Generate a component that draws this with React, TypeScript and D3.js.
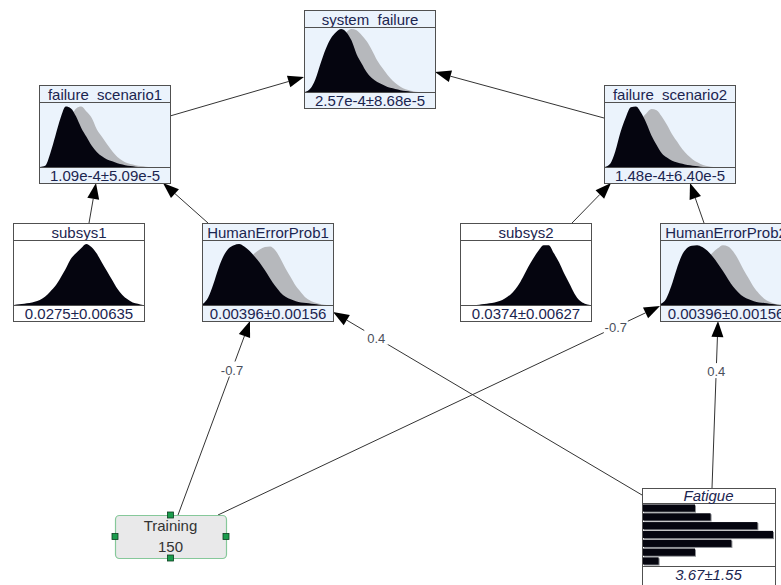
import React from 'react';
import * as d3 from 'd3';

// histogram heights (relative), sampled evenly across each node's plot area
const sfPost = [0, 0.05, 0.2, 0.45, 0.68, 0.85, 0.95, 1.0, 0.95, 0.82, 0.6, 0.45, 0.31, 0.22, 0.16, 0.12, 0.08, 0.06, 0.04, 0.02, 0.01, 0, 0, 0, 0, 0];
const sfPrior = [0, 0.02, 0.06, 0.12, 0.25, 0.45, 0.66, 0.84, 0.95, 1.0, 0.98, 0.9, 0.8, 0.66, 0.5, 0.38, 0.27, 0.18, 0.11, 0.06, 0.03, 0.01, 0, 0, 0, 0];
const fs1Post = [0, 0.02, 0.22, 0.5, 0.78, 0.96, 0.93, 0.8, 0.62, 0.48, 0.34, 0.24, 0.17, 0.12, 0.09, 0.06, 0.04, 0.02, 0.01, 0, 0, 0, 0, 0, 0, 0];
const fs1Prior = [0, 0, 0.05, 0.15, 0.3, 0.55, 0.78, 0.93, 0.96, 0.88, 0.78, 0.6, 0.48, 0.36, 0.25, 0.16, 0.1, 0.06, 0.04, 0.02, 0.01, 0, 0, 0, 0, 0];
const fs2Post = [0, 0.05, 0.25, 0.55, 0.78, 0.95, 0.96, 0.86, 0.7, 0.5, 0.35, 0.22, 0.15, 0.1, 0.07, 0.05, 0.03, 0.02, 0.01, 0, 0, 0, 0, 0, 0, 0];
const fs2Prior = [0, 0, 0.05, 0.12, 0.25, 0.42, 0.6, 0.75, 0.85, 0.92, 0.9, 0.8, 0.67, 0.52, 0.4, 0.28, 0.19, 0.12, 0.07, 0.03, 0.01, 0, 0, 0, 0, 0];
const hep1Post = [0.02, 0.12, 0.33, 0.58, 0.78, 0.9, 0.95, 0.97, 0.93, 0.86, 0.77, 0.67, 0.55, 0.42, 0.3, 0.2, 0.13, 0.09, 0.06, 0.04, 0.03, 0.02, 0.01, 0, 0, 0];
const hep1Prior = [0, 0, 0.03, 0.08, 0.15, 0.25, 0.37, 0.5, 0.62, 0.73, 0.82, 0.88, 0.92, 0.93, 0.87, 0.74, 0.58, 0.44, 0.3, 0.2, 0.11, 0.06, 0.03, 0.01, 0, 0];
const hep2Post = [0.02, 0.1, 0.3, 0.56, 0.78, 0.9, 0.94, 0.95, 0.92, 0.86, 0.77, 0.66, 0.54, 0.41, 0.29, 0.2, 0.13, 0.09, 0.06, 0.04, 0.03, 0.02, 0.01, 0, 0, 0];
const hep2Prior = [0, 0, 0.03, 0.08, 0.15, 0.25, 0.38, 0.5, 0.63, 0.74, 0.83, 0.9, 0.95, 0.93, 0.85, 0.72, 0.56, 0.42, 0.28, 0.18, 0.1, 0.05, 0.02, 0.01, 0, 0];
const subsys1Post = [0, 0.01, 0.02, 0.03, 0.05, 0.08, 0.13, 0.21, 0.3, 0.43, 0.57, 0.73, 0.82, 0.9, 0.97, 0.92, 0.82, 0.68, 0.54, 0.4, 0.26, 0.16, 0.09, 0.04, 0.02, 0];
const subsys2Post = [0, 0, 0, 0, 0.01, 0.02, 0.03, 0.05, 0.08, 0.13, 0.2, 0.3, 0.44, 0.6, 0.74, 0.86, 0.95, 0.95, 0.82, 0.68, 0.5, 0.34, 0.18, 0.07, 0.02, 0];

const fatigueStates = ['s1', 's2', 's3', 's4', 's5', 's6', 's7'];
const fatigueProbs = [0.1, 0.13, 0.22, 0.25, 0.17, 0.1, 0.03];

const NW = 131;
const NH = 98;

type NodeDef = { id: string; x: number; y: number; value: string; post: number[]; prior?: number[] };

const nodes: NodeDef[] = [
  { id: 'system_failure', x: 304, y: 10, value: '2.57e-4±8.68e-5', post: sfPost, prior: sfPrior },
  { id: 'failure_scenario1', x: 39, y: 85, value: '1.09e-4±5.09e-5', post: fs1Post, prior: fs1Prior },
  { id: 'failure_scenario2', x: 604, y: 85, value: '1.48e-4±6.40e-5', post: fs2Post, prior: fs2Prior },
  { id: 'subsys1', x: 13, y: 223, value: '0.0275±0.00635', post: subsys1Post },
  { id: 'HumanErrorProb1', x: 202, y: 223, value: '0.00396±0.00156', post: hep1Post, prior: hep1Prior },
  { id: 'subsys2', x: 460, y: 223, value: '0.0374±0.00627', post: subsys2Post },
  { id: 'HumanErrorProb2', x: 660, y: 223, value: '0.00396±0.00156', post: hep2Post, prior: hep2Prior },
];

const training = { id: 'Training', x: 115, y: 515, w: 111, h: 43, value: '150' };
const fatigue = { id: 'Fatigue', x: 642, y: 488, w: 133, h: 110, value: '3.67±1.55' };

const pos: Record<string, { x: number; y: number }> = {};
nodes.forEach(n => (pos[n.id] = { x: n.x, y: n.y }));
pos[training.id] = { x: training.x, y: training.y };
pos[fatigue.id] = { x: fatigue.x, y: fatigue.y };

// arcs: anchor offsets relative to each node's top-left corner
const edges = [
  { from: 'failure_scenario1', to: 'system_failure', sx: 131, sy: 31, tx: 0, ty: 67 },
  { from: 'failure_scenario2', to: 'system_failure', sx: 0, sy: 33, tx: 131, ty: 62 },
  { from: 'subsys1', to: 'failure_scenario1', sx: 76, sy: 0, tx: 57, ty: 98 },
  { from: 'HumanErrorProb1', to: 'failure_scenario1', sx: 6, sy: 0, tx: 124, ty: 98 },
  { from: 'subsys2', to: 'failure_scenario2', sx: 112, sy: 0, tx: 7, ty: 98 },
  { from: 'HumanErrorProb2', to: 'failure_scenario2', sx: 44, sy: 0, tx: 86, ty: 98 },
  { from: 'Training', to: 'HumanErrorProb1', sx: 63, sy: 0, tx: 48, ty: 98, label: '-0.7', t: 0.75 },
  { from: 'Fatigue', to: 'HumanErrorProb1', sx: 0, sy: 7, tx: 131, ty: 89, label: '0.4', t: 0.86 },
  { from: 'Training', to: 'HumanErrorProb2', sx: 103, sy: 0, tx: 0, ty: 83, label: '-0.7', t: 0.9 },
  { from: 'Fatigue', to: 'HumanErrorProb2', sx: 70, sy: 0, tx: 58, ty: 98, label: '0.4', t: 0.7 },
];

const TEXT = '#1b2550';
const BORDER = '#505050';
const DARK = '#05050f';
const GRAY = '#b6b8bc';
const LIGHT = '#ebf3fc';
const FONT = 'Arial, "Liberation Sans", sans-serif';

const Hist: React.FC<{ n: NodeDef }> = ({ n }) => {
  const x = d3.scaleLinear().domain([0, n.post.length - 1]).range([n.x + 1, n.x + NW - 1]);
  const y = d3.scaleLinear().domain([0, 1]).range([n.y + 82, n.y + 19]);
  const area = d3.area<number>()
    .x((_, i) => x(i))
    .y0(y(0))
    .y1(d => y(d))
    .curve(d3.curveMonotoneX);
  const compare = !!n.prior;
  const clipId = 'clip-' + n.id;
  return (
    <g>
      <clipPath id={clipId}>
        <rect x={n.x} y={n.y} width={NW} height={17} />
      </clipPath>
      <rect x={n.x + 0.5} y={n.y + 0.5} width={NW} height={NH} fill={compare ? LIGHT : '#fff'} stroke={BORDER} />
      {n.prior && <path d={area(n.prior) || ''} fill={GRAY} />}
      <path d={area(n.post) || ''} fill={DARK} />
      <text x={n.x + NW / 2 + 0.5} y={n.y + 15} textAnchor="middle" fontSize={15} fill={TEXT} fontFamily={FONT} clipPath={`url(#${clipId})`}>{n.id}</text>
      <line x1={n.x} x2={n.x + NW} y1={n.y + 17.5} y2={n.y + 17.5} stroke={BORDER} />
      <line x1={n.x} x2={n.x + NW} y1={n.y + 82.5} y2={n.y + 82.5} stroke={BORDER} />
      <text x={n.x + NW / 2 + 0.5} y={n.y + 96} textAnchor="middle" fontSize={15} fill={TEXT} fontFamily={FONT}>{n.value}</text>
    </g>
  );
};

const App: React.FC = () => {
  const fy = d3.scaleBand().domain(fatigueStates).range([fatigue.y + 16, fatigue.y + 77]).paddingInner(0.18).paddingOuter(0.05);
  const fx = d3.scaleLinear().domain([0, d3.max(fatigueProbs) || 1]).range([0, 130]);

  const arcs = edges.map(e => {
    const s = pos[e.from];
    const t = pos[e.to];
    const x1 = s.x + e.sx, y1 = s.y + e.sy, x2 = t.x + e.tx, y2 = t.y + e.ty;
    const ang = Math.atan2(y2 - y1, x2 - x1);
    const L = 16, Wd = 6;
    const bx = x2 - L * Math.cos(ang), by = y2 - L * Math.sin(ang);
    const head = [
      [x2, y2],
      [bx + Wd * Math.sin(ang), by - Wd * Math.cos(ang)],
      [bx - Wd * Math.sin(ang), by + Wd * Math.cos(ang)],
    ];
    return { ...e, x1, y1, bx, by, head };
  });

  return (
    <svg width={781} height={585} style={{ position: 'absolute', left: 0, top: 0, background: '#fff' }} fontFamily={FONT}>
      {arcs.map((a, i) => (
        <g key={i}>
          <line x1={a.x1} y1={a.y1} x2={a.bx} y2={a.by} stroke="#333" strokeWidth={1} />
          <polygon points={a.head.map(p => p.join(',')).join(' ')} fill="#000" />
        </g>
      ))}
      {arcs.filter(a => a.label).map((a, i) => {
        const lx = a.x1 + (a.head[0][0] - a.x1) * (a.t as number);
        const ly = a.y1 + (a.head[0][1] - a.y1) * (a.t as number);
        return (
          <g key={'l' + i}>
            <rect x={lx - 12} y={ly - 8} width={24} height={15} fill="#fff" />
            <text x={lx} y={ly + 5} textAnchor="middle" fontSize={13} fill="#4a4f5c">{a.label}</text>
          </g>
        );
      })}
      {nodes.map(n => <Hist key={n.id} n={n} />)}

      {/* Training (evidence node) */}
      <rect x={training.x + 0.5} y={training.y + 0.5} width={training.w} height={training.h} rx={4} fill="#e9e9ea" stroke="#86c89a" strokeWidth={1.2} />
      <text x={training.x + training.w / 2} y={training.y + 16} textAnchor="middle" fontSize={15} fill="#333">{training.id}</text>
      <text x={training.x + training.w / 2} y={training.y + 37} textAnchor="middle" fontSize={15} fill="#333">{training.value}</text>
      {[[training.w / 2, 0], [training.w / 2, training.h], [0, training.h / 2], [training.w, training.h / 2]].map(([dx, dy], i) => (
        <rect key={i} x={training.x + dx - 3} y={training.y + dy - 3} width={6} height={6} fill="#1a9c4c" stroke="#0b3d1e" strokeWidth={0.8} />
      ))}

      {/* Fatigue */}
      <rect x={fatigue.x + 0.5} y={fatigue.y + 0.5} width={fatigue.w} height={fatigue.h} fill="#fff" stroke={BORDER} />
      <line x1={fatigue.x} x2={fatigue.x + fatigue.w} y1={fatigue.y + 15.5} y2={fatigue.y + 15.5} stroke={BORDER} />
      <line x1={fatigue.x} x2={fatigue.x + fatigue.w} y1={fatigue.y + 78.5} y2={fatigue.y + 78.5} stroke={BORDER} />
      <text x={fatigue.x + fatigue.w / 2} y={fatigue.y + 13} textAnchor="middle" fontSize={15} fontStyle="italic" fill={TEXT}>{fatigue.id}</text>
      {fatigueStates.map((s, i) => (
        <g key={s}>
          <rect x={fatigue.x + 2} y={(fy(s) || 0) + 1} width={fx(fatigueProbs[i])} height={fy.bandwidth()} fill="#8a8c90" />
          <rect x={fatigue.x + 1} y={fy(s) || 0} width={fx(fatigueProbs[i])} height={fy.bandwidth()} fill={DARK} />
        </g>
      ))}
      <text x={fatigue.x + fatigue.w / 2} y={fatigue.y + 92} textAnchor="middle" fontSize={15} fontStyle="italic" fill={TEXT}>{fatigue.value}</text>
    </svg>
  );
};

export default App;
